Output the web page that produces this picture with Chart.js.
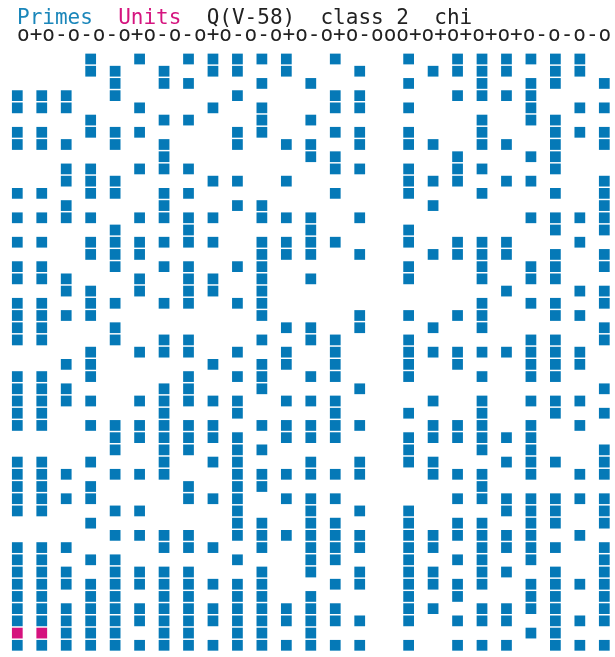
<!DOCTYPE html>
<html lang="en">
<head>
  <meta charset="UTF-8">
  <title>Primes and units, Q(V-58) class 2 chi</title>
  <script src="https://cdn.jsdelivr.net/npm/chart.js"></script>
  <style>
    html, body {
      margin: 0;
      padding: 0;
      background: #fff;
      overflow: hidden;
    }
    #chart {
      position: absolute;
      left: 0;
      top: 0;
    }
    .line {
      position: absolute;
      left: 17px;
      font-family: "DejaVu Sans Mono", monospace;
      font-size: 21px;
      line-height: 21px;
      color: #222;
      white-space: pre;
    }
    #title { top: 7px; }
    #chi { top: 24px; }
    .primes { color: #1a86ba; }
    .units { color: #d5157f; }
  </style>
</head>
<body>
  <canvas id="chart" width="615" height="657"></canvas>
  <div class="line" id="title"><span class="primes">Primes</span>  <span class="units">Units</span>  Q(V-58)  class 2  chi</div>
  <div class="line" id="chi">o+o-o-o-o+o-o-o+o-o-o+o-o+o-ooo+o+o+o+o+o-o-o-o</div>

  <script>
    const columnCount = 25;
    const rowCount = 49;

    // primes: for each row, top to bottom, the columns that are filled
    const primeRows = [
      [3, 5, 7, 8, 9, 10, 11, 13, 16, 18, 19, 20, 21, 22, 23],
      [3, 4, 6, 8, 9, 11, 14, 17, 18, 19, 20, 22, 23],
      [4, 6, 7, 10, 12, 16, 19, 21, 22, 24],
      [0, 1, 2, 4, 9, 13, 14, 18, 19, 20, 21],
      [0, 1, 2, 5, 8, 10, 13, 14, 16, 21, 23, 24],
      [3, 6, 7, 10, 12, 19, 21, 22],
      [0, 1, 3, 4, 5, 9, 10, 13, 14, 16, 19, 22, 23, 24],
      [0, 1, 2, 4, 6, 9, 11, 12, 14, 16, 17, 19, 20, 22, 24],
      [6, 12, 13, 18, 21, 22],
      [2, 3, 5, 6, 7, 13, 14, 16, 18, 19, 22],
      [2, 3, 4, 8, 9, 11, 16, 17, 18, 20, 21, 24],
      [0, 1, 3, 4, 6, 7, 13, 16, 19, 22, 24],
      [2, 6, 9, 10, 17, 24],
      [0, 1, 2, 3, 5, 6, 7, 8, 10, 11, 12, 14, 21, 22, 23, 24],
      [4, 7, 12, 16, 22, 24],
      [0, 1, 3, 4, 5, 6, 7, 8, 10, 11, 12, 13, 16, 18, 19, 20, 23],
      [3, 4, 5, 10, 11, 12, 14, 17, 18, 19, 20, 22, 24],
      [0, 1, 4, 6, 7, 9, 10, 16, 19, 21, 22, 24],
      [0, 1, 2, 5, 7, 8, 10, 12, 16, 19, 21, 22],
      [2, 3, 5, 7, 8, 10, 20, 23, 24],
      [0, 1, 3, 4, 6, 7, 9, 10, 19, 21, 22, 24],
      [0, 1, 2, 3, 10, 14, 16, 18, 19, 22, 23],
      [0, 1, 4, 11, 12, 14, 17, 19, 24],
      [0, 1, 4, 6, 7, 10, 12, 13, 16, 21, 22, 24],
      [3, 5, 6, 7, 9, 11, 13, 16, 17, 18, 19, 20, 21, 22, 23],
      [2, 3, 8, 10, 11, 13, 16, 18, 21, 22, 23],
      [0, 1, 3, 7, 9, 10, 12, 13, 16, 19, 21, 22],
      [0, 1, 2, 6, 7, 10, 14, 24],
      [0, 1, 2, 3, 5, 6, 7, 8, 9, 11, 12, 13, 17, 19, 21, 22, 23],
      [0, 1, 6, 9, 13, 16, 19, 22, 24],
      [0, 1, 3, 4, 5, 6, 7, 8, 10, 11, 12, 13, 14, 17, 18, 19, 21, 23],
      [4, 5, 6, 7, 8, 9, 11, 12, 13, 16, 17, 18, 19, 20, 21],
      [4, 6, 7, 9, 10, 16, 19, 21, 24],
      [0, 1, 3, 6, 8, 9, 12, 14, 16, 17, 20, 21, 22, 24],
      [0, 1, 2, 4, 5, 6, 9, 10, 11, 12, 13, 14, 17, 18, 19, 21, 23, 24],
      [0, 1, 3, 7, 9, 10, 19],
      [0, 1, 2, 3, 7, 8, 9, 11, 12, 13, 18, 19, 20, 21, 22, 23, 24],
      [0, 1, 4, 5, 9, 12, 14, 16, 20, 21, 22, 24],
      [3, 9, 10, 12, 13, 16, 18, 19, 21, 22, 24],
      [4, 5, 6, 7, 9, 10, 11, 12, 13, 14, 16, 17, 18, 19, 20, 21, 23],
      [0, 1, 2, 6, 7, 8, 10, 12, 13, 14, 16, 17, 19, 20, 21, 22, 24],
      [0, 1, 3, 4, 9, 12, 13, 16, 18, 19, 21, 24],
      [0, 1, 2, 4, 5, 6, 7, 10, 12, 14, 16, 17, 19, 20, 22, 24],
      [0, 1, 2, 3, 4, 5, 6, 7, 8, 9, 10, 13, 14, 16, 17, 18, 19, 21, 22, 23, 24],
      [0, 1, 3, 4, 6, 7, 9, 10, 12, 16, 18, 21, 22, 24],
      [0, 1, 2, 3, 4, 5, 6, 7, 8, 9, 10, 11, 12, 13, 16, 17, 19, 20, 21, 22, 24],
      [0, 1, 2, 3, 4, 5, 6, 7, 8, 9, 10, 11, 12, 13, 14, 16, 18, 19, 20, 22, 23, 24],
      [2, 3, 4, 6, 7, 9, 10, 12, 21, 22],
      [0, 1, 2, 3, 4, 5, 6, 7, 8, 9, 10, 11, 12, 13, 14, 16, 18, 19, 20, 22, 23, 24]
    ];

    // units sit in one row only, near the bottom
    const unitRow = 47;
    const unitColumns = [0, 1];

    const primeBlue = '#0579b7';
    const unitPink = '#d5127e';

    const primePoints = [];
    primeRows.forEach((cols, row) => {
      cols.forEach(col => primePoints.push({ x: col, y: row }));
    });
    const unitPoints = unitColumns.map(col => ({ x: col, y: unitRow }));

    function squareSet(label, points, color) {
      return {
        label: label,
        data: points,
        pointStyle: 'rect',
        pointRadius: 7.6,
        pointBorderWidth: 0,
        pointBackgroundColor: color,
        clip: false
      };
    }

    new Chart(document.getElementById('chart'), {
      type: 'scatter',
      data: {
        datasets: [
          squareSet('Primes', primePoints, primeBlue),
          squareSet('Units', unitPoints, unitPink)
        ]
      },
      options: {
        responsive: false,
        animation: false,
        layout: {
          padding: { left: 17.3, right: 10.7, top: 59, bottom: 11.7 }
        },
        plugins: {
          legend: { display: false },
          tooltip: { enabled: false }
        },
        scales: {
          x: { type: 'linear', display: false, min: 0, max: columnCount - 1 },
          y: { type: 'linear', display: false, min: 0, max: rowCount - 1, reverse: true }
        }
      }
    });
  </script>
</body>
</html>
